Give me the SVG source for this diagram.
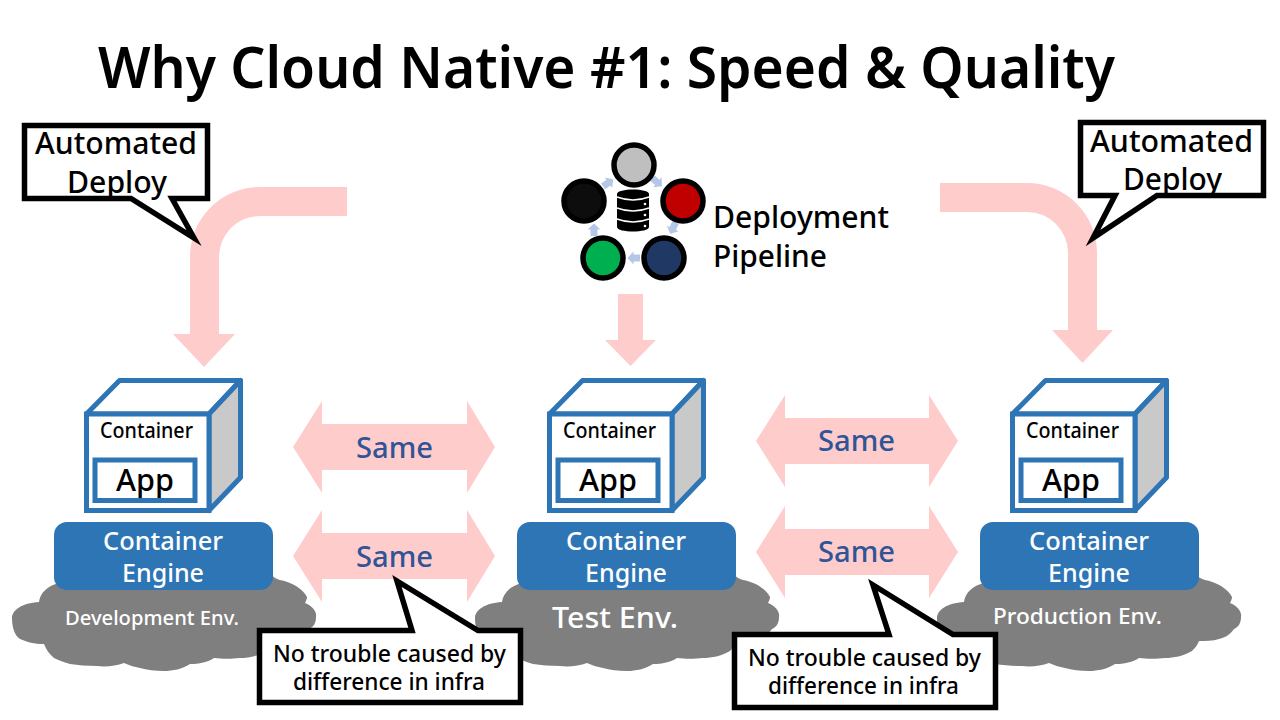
<svg xmlns="http://www.w3.org/2000/svg" xmlns:xlink="http://www.w3.org/1999/xlink" width="1280" height="720" viewBox="0 0 1280 720">
<style>
text{font-family:"Noto Sans","Open Sans","Liberation Sans",sans-serif;fill:#000;font-weight:500}
.title{font-size:57px;font-weight:600}
.call{font-size:30px}
.pipe{font-size:30px}
.cont{font-size:21px}
.app{font-size:31px}
.eng{font-size:26px;fill:#fff}
.env{font-size:20px;fill:#fff}
.same{font-size:29px;fill:#2f5597}
.note{font-size:23px}
.pink{fill:#ffcccc}
.box{fill:#fff;stroke:#000;stroke-width:5.5;stroke-miterlimit:10}
.mini{fill:#b4c7e7}
.ring{stroke:#000;stroke-width:5.5}
</style>
<defs>
<path id="cloud" fill="#7f7f7f" d="M12 618C12 610 22 603 39 602C40 593 48 585 60 583L272 575C274 578 277 579 280 580C292 582 303 589 307 597C307 599 306 601 305 603C312 606 317 611 316 617C316 624 313 627 309 629C305 635 299 638 294 639C288 641 280 641 274 641C272 646 269 649 267 651C258 656 249 658 240 658C232 659 222 659 214 658C208 662 199 664 190 664C182 669 173 671 164 671C155 671 147 670 140 668C134 667 129 665 124 663C116 666 106 667 97 666C87 666 78 665 70 664C63 662 58 660 54 658C49 654 46 649 44 644C34 644 27 642 20 639C14 635 12 626 12 618Z"/>
<g id="cube" stroke="#2e75b6" stroke-width="5" stroke-linejoin="round">
<path fill="#fff" d="M86.500 414L119.500 380.500H240.500L209 414Z"/>
<path fill="#c9c9c9" d="M209 414L240.500 380.500V477.500L209 510.500Z"/>
<rect x="86.500" y="414" width="122.500" height="96.500" fill="#fff" stroke-linejoin="miter"/>
<rect x="95" y="460" width="100" height="40.500" fill="#fff" stroke-linejoin="miter"/>
</g>
<path id="mini" class="mini" d="M-6-3.500H0.500V-6.500L6.500 0L0.500 6.500V3.500H-6Z"/>
<rect id="engine" x="54" y="522" width="219" height="68" rx="13" fill="#2e75b6"/>
</defs>
<g id="connectors">
<path class="pink" d="M347 187H260A70 70 0 0 0 190 257V334H173L204 367L235 334H219V257A41 41 0 0 1 260 216H347Z"/>
<path class="pink" d="M940 183H1027A70 70 0 0 1 1097 253V330H1113L1082.500 363L1052 330H1068V253A41 41 0 0 0 1027 212H940Z"/>
<path class="pink" d="M618 294H643V340H656L630.500 366L605 340H618Z"/>
<path class="pink" d="M293 447L322 401V424H467V401L495 447L467 493V470H322V493Z"/>
<path class="pink" d="M293 556L322 510V533H467V510L495 556L467 602V579H322V602Z"/>
<path class="pink" d="M756 441L785 395V418H929V395L958 441L929 487V464H785V487Z"/>
<path class="pink" d="M756 552L785 506V529H929V506L958 552L929 598V575H785V598Z"/>
<text class="same" x="356" y="458" textLength="77" lengthAdjust="spacingAndGlyphs">Same</text>
<text class="same" x="356" y="567" textLength="77" lengthAdjust="spacingAndGlyphs">Same</text>
<text class="same" x="818" y="451" textLength="77" lengthAdjust="spacingAndGlyphs">Same</text>
<text class="same" x="818" y="562" textLength="77" lengthAdjust="spacingAndGlyphs">Same</text>
<use xlink:href="#mini" href="#mini" transform="translate(657 182) rotate(40)"/>
<use xlink:href="#mini" href="#mini" transform="translate(673 228) rotate(115)"/>
<use xlink:href="#mini" href="#mini" transform="translate(634 258) rotate(180)"/>
<use xlink:href="#mini" href="#mini" transform="translate(594 230) rotate(-90)"/>
<use xlink:href="#mini" href="#mini" transform="translate(608 183) rotate(-35)"/>
</g>
<text id="title" class="title" x="98" y="88" textLength="1017" lengthAdjust="spacingAndGlyphs">Why Cloud Native #1: Speed &amp; Quality</text>
<g id="pipeline">
<circle class="ring" cx="634" cy="165" r="20" fill="#bfbfbf"/>
<circle class="ring" cx="683" cy="201" r="20" fill="#c00000"/>
<circle class="ring" cx="664" cy="258" r="20" fill="#1f3864"/>
<circle class="ring" cx="603" cy="258" r="20" fill="#00b050"/>
<circle class="ring" cx="584" cy="201" r="20" fill="#0d0d0d"/>
<path fill="#000" d="M617 194C617 188 649 188 649 194V227C649 233 617 233 617 227Z"/>
<path fill="none" stroke="#fff" stroke-width="1.500" d="M617 197Q633 203 649 197M617 208Q633 214 649 208M617 219Q633 225 649 219"/>
<circle cx="645" cy="204" r="1.300" fill="#fff"/><circle cx="645" cy="215" r="1.300" fill="#fff"/><circle cx="645" cy="226" r="1.300" fill="#fff"/>
<text class="pipe" x="713" y="228" textLength="176" lengthAdjust="spacingAndGlyphs">Deployment</text>
<text class="pipe" x="713" y="267" textLength="114" lengthAdjust="spacingAndGlyphs">Pipeline</text>
</g>
<g id="env-dev">
<use xlink:href="#cloud" href="#cloud"/>
<use xlink:href="#engine" href="#engine"/>
<use xlink:href="#cube" href="#cube"/>
<text class="cont" x="100" y="438" textLength="93" lengthAdjust="spacingAndGlyphs">Container</text>
<text class="app" x="116" y="491" textLength="58" lengthAdjust="spacingAndGlyphs">App</text>
<text class="eng" x="103" y="550" textLength="120" lengthAdjust="spacingAndGlyphs">Container</text>
<text class="eng" x="122" y="582" textLength="82" lengthAdjust="spacingAndGlyphs">Engine</text>
<text class="env" x="65" y="625" textLength="174" lengthAdjust="spacingAndGlyphs">Development Env.</text>
</g>
<g id="env-test">
<use xlink:href="#cloud" href="#cloud" x="463"/>
<use xlink:href="#engine" href="#engine" x="463"/>
<use xlink:href="#cube" href="#cube" x="463"/>
<text class="cont" x="563" y="438" textLength="93" lengthAdjust="spacingAndGlyphs">Container</text>
<text class="app" x="579" y="491" textLength="58" lengthAdjust="spacingAndGlyphs">App</text>
<text class="eng" x="566" y="550" textLength="120" lengthAdjust="spacingAndGlyphs">Container</text>
<text class="eng" x="585" y="582" textLength="82" lengthAdjust="spacingAndGlyphs">Engine</text>
<text class="env" style="font-size:29px" x="552" y="628" textLength="126" lengthAdjust="spacingAndGlyphs">Test Env.</text>
</g>
<g id="env-prod">
<use xlink:href="#cloud" href="#cloud" x="925"/>
<use xlink:href="#engine" href="#engine" x="926"/>
<use xlink:href="#cube" href="#cube" x="926"/>
<text class="cont" x="1026" y="438" textLength="93" lengthAdjust="spacingAndGlyphs">Container</text>
<text class="app" x="1042" y="491" textLength="58" lengthAdjust="spacingAndGlyphs">App</text>
<text class="eng" x="1029" y="550" textLength="120" lengthAdjust="spacingAndGlyphs">Container</text>
<text class="eng" x="1048" y="582" textLength="82" lengthAdjust="spacingAndGlyphs">Engine</text>
<text class="env" style="font-size:22px" x="993" y="624" textLength="169" lengthAdjust="spacingAndGlyphs">Production Env.</text>
</g>
<g id="callout-deploy-left">
<path class="box" d="M24.500 125.500H207.500V198.500H172L194 238L131 198.500H24.500Z"/>
<text class="call" x="35" y="154" textLength="162" lengthAdjust="spacingAndGlyphs">Automated</text>
<text class="call" x="67" y="193" textLength="100" lengthAdjust="spacingAndGlyphs">Deploy</text>
</g>
<g id="callout-deploy-right">
<path class="box" d="M1080.500 122.500H1263.500V195.500H1157L1093 238L1115 195.500H1080.500Z"/>
<text class="call" x="1090" y="152" textLength="163" lengthAdjust="spacingAndGlyphs">Automated</text>
<text class="call" x="1123" y="190" textLength="99" lengthAdjust="spacingAndGlyphs">Deploy</text>
</g>
<g id="callout-infra-left">
<path class="box" d="M259.500 630.500H412L397 581L478 630.500H520.500V702.500H259.500Z"/>
<text class="note" x="273" y="662" textLength="233" lengthAdjust="spacingAndGlyphs">No trouble caused by</text>
<text class="note" x="293" y="690" textLength="192" lengthAdjust="spacingAndGlyphs">difference in infra</text>
</g>
<g id="callout-infra-right">
<path class="box" d="M734.500 634.500H889L873 585L953 634.500H995.500V707.500H734.500Z"/>
<text class="note" x="748" y="666" textLength="233" lengthAdjust="spacingAndGlyphs">No trouble caused by</text>
<text class="note" x="768" y="694" textLength="191" lengthAdjust="spacingAndGlyphs">difference in infra</text>
</g>
</svg>
